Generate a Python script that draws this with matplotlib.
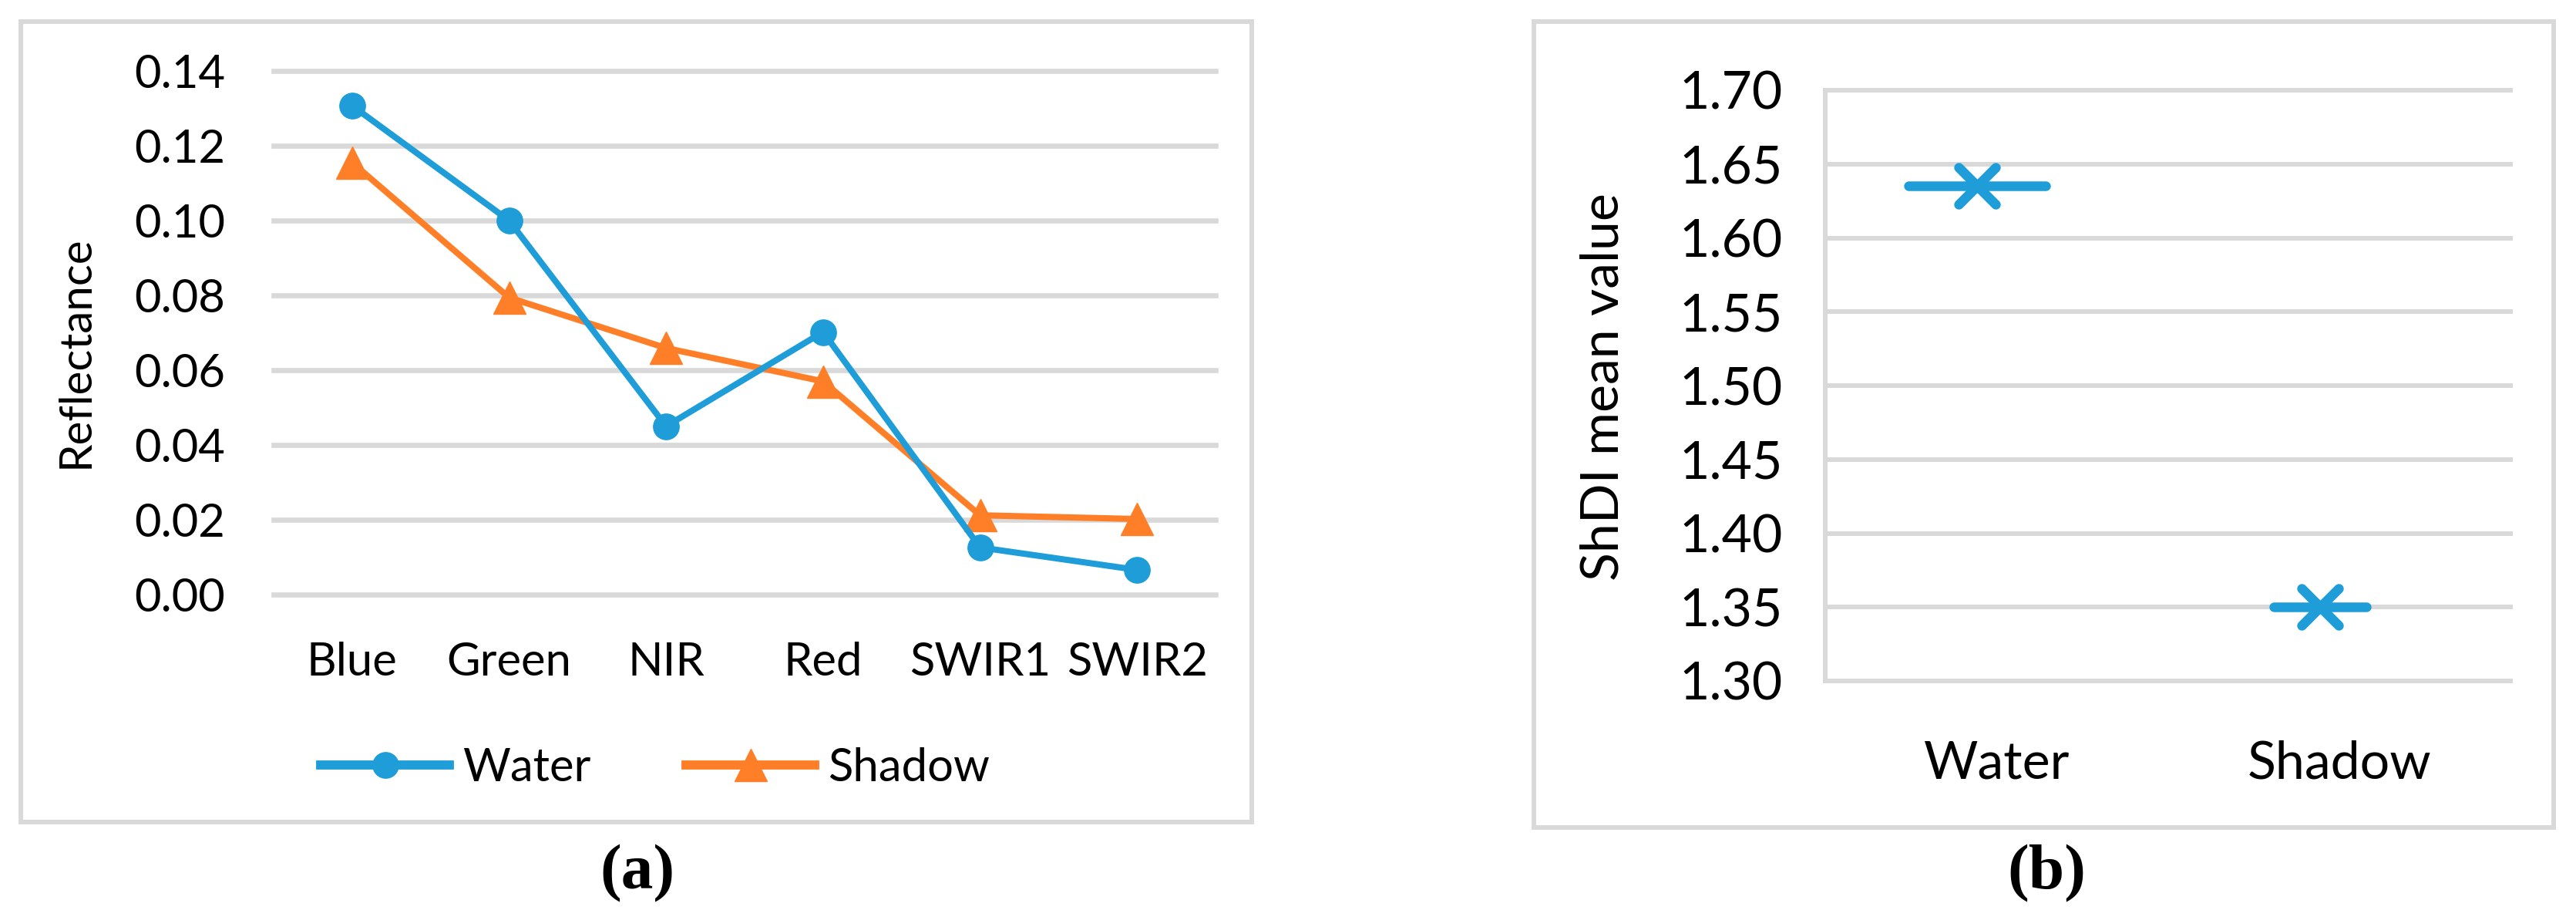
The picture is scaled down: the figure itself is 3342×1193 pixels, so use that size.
"""
Two-panel figure: band reflectance of water vs shadow (a) and mean ShDI per class (b).
"""

import matplotlib
matplotlib.use("Agg")
import matplotlib.pyplot as plt
from matplotlib.markers import MarkerStyle
from matplotlib.patches import Rectangle
from matplotlib import transforms


# (a) reflectance per band
bands = ["Blue", "Green", "NIR", "Red", "SWIR1", "SWIR2"]
water_refl = [0.1307, 0.1000, 0.0450, 0.0702, 0.0126, 0.0066]
shadow_refl = [0.1155, 0.0794, 0.0659, 0.0570, 0.0212, 0.0202]
refl_ticks = [0.00, 0.02, 0.04, 0.06, 0.08, 0.10, 0.12, 0.14]

# (b) mean ShDI per class
classes = ["Water", "Shadow"]
shdi_mean = [1.635, 1.350]
shdi_ticks = [1.30, 1.35, 1.40, 1.45, 1.50, 1.55, 1.60, 1.65, 1.70]

BLUE = "#1E9DD8"
ORANGE = "#FE7F27"
GRID = "#D9D9D9"

plt.rcParams["font.family"] = ["Lato", "DejaVu Sans"]

W, H = 3342, 1193
fig = plt.figure(figsize=(W / 100, H / 100), dpi=100)


def frac(x0, y0, x1, y1):
    """pixel box (top-left origin) -> figure fraction rect"""
    return [x0 / W, 1 - y1 / H, (x1 - x0) / W, (y1 - y0) / H]


# panel frames
for x0, y0, x1, y1 in [(27, 28, 1624, 1066), (1990, 28, 3313, 1073)]:
    r = frac(x0, y0, x1, y1)
    fig.patches.append(Rectangle((r[0], r[1]), r[2], r[3], transform=fig.transFigure,
                                 fill=False, edgecolor=GRID, linewidth=4.3, zorder=0))

# ---- panel (a)
ax1 = fig.add_axes(frac(355, 92, 1577, 771))
x = list(range(len(bands)))
for t in refl_ticks:
    ax1.axhline(t, color=GRID, linewidth=4.8, zorder=0, clip_on=False)
ax1.plot(x, water_refl, color=BLUE, linewidth=5.8, marker="o", markersize=24,
         label="Water", clip_on=False, zorder=3)
ax1.plot(x, shadow_refl, color=ORANGE, linewidth=5.8, marker="^", markersize=30,
         label="Shadow", clip_on=False, zorder=2)
ax1.set_xlim(-0.5, len(bands) - 0.5)
ax1.set_ylim(refl_ticks[0], refl_ticks[-1])
ax1.set_xticks(x, bands)
ax1.set_yticks(refl_ticks, [f"{t:.2f}" for t in refl_ticks])
ax1.tick_params(axis="y", length=0, pad=45, labelsize=43)
ax1.tick_params(axis="x", length=0, pad=44, labelsize=43)
for s in ax1.spines.values():
    s.set_visible(False)

fig.text(98 / W, 1 - 456 / H, "Reflectance", rotation=90, ha="center", va="center", fontsize=42)

leg = fig.legend(*ax1.get_legend_handles_labels(), loc="center", ncol=2,
                 bbox_to_anchor=(850 / W, 1 - 996 / H), frameon=False, fontsize=43,
                 handlelength=2.8, handletextpad=0.28, columnspacing=2.07, numpoints=1)
for ln in leg.get_lines():
    ln.set_linewidth(8.5)

# ---- panel (b)
ax2 = fig.add_axes(frac(2368, 117, 3257, 883))
xc = list(range(len(classes)))
for t in shdi_ticks:
    ax2.axhline(t, color=GRID, linewidth=4.3, zorder=0, clip_on=False)
shift = transforms.offset_copy(ax2.transData, fig=fig, x=-25, y=0, units="dots")
dash_sizes = [128, 86]
for i in xc:
    ax2.plot(xc[i], shdi_mean[i], linestyle="none", color=BLUE, transform=shift,
             marker=MarkerStyle("_", capstyle="round"), markersize=dash_sizes[i],
             markeredgewidth=9, clip_on=False, zorder=3)
ax2.plot(xc, shdi_mean, linestyle="none", color=BLUE, transform=shift,
         marker=MarkerStyle("x", capstyle="round"), markersize=34,
         markeredgewidth=9, clip_on=False, zorder=3)
ax2.set_xlim(-0.5, len(classes) - 0.5)
ax2.set_ylim(shdi_ticks[0], shdi_ticks[-1])
ax2.set_xticks(xc, classes)
ax2.set_yticks(shdi_ticks, [f"{t:.2f}" for t in shdi_ticks])
ax2.tick_params(axis="y", length=0, pad=40, labelsize=49)
ax2.tick_params(axis="x", length=0, pad=55, labelsize=49)
for name, s in ax2.spines.items():
    if name == "left":
        s.set_color(GRID)
        s.set_linewidth(4.3)
    else:
        s.set_visible(False)

fig.text(2080 / W, 1 - 502 / H, "ShDI mean value", rotation=90, ha="center", va="center", fontsize=49)

# panel letters
for px, letter in [(827, "(a)"), (2655, "(b)")]:
    fig.text(px / W, 1 - 1133 / H, letter, ha="center", va="center", fontsize=60,
             fontweight="bold", family="Liberation Serif")

fig.savefig("out.png", dpi=100)
plt.close(fig)
